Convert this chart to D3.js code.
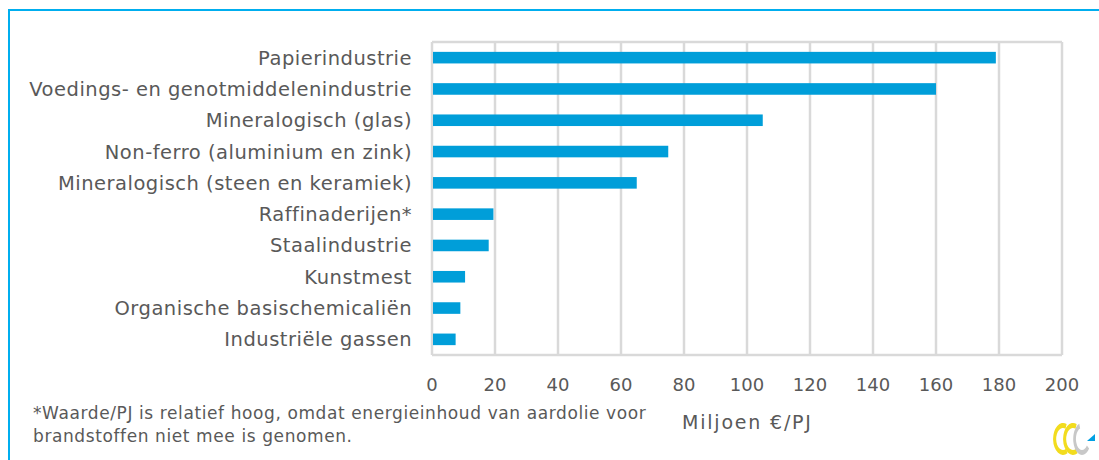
<!DOCTYPE html>
<html>
<head>
<meta charset="utf-8">
<script src="https://cdn.jsdelivr.net/npm/d3@7"></script>
<style>
  body { margin: 0; background: #fff; }
  text { font-family: "DejaVu Sans", sans-serif; fill: #595959; }
</style>
</head>
<body>
<div id="chart"></div>
<script>
// categories top to bottom
const sectors = [
  "Papierindustrie",
  "Voedings- en genotmiddelenindustrie",
  "Mineralogisch (glas)",
  "Non-ferro (aluminium en zink)",
  "Mineralogisch (steen en keramiek)",
  "Raffinaderijen*",
  "Staalindustrie",
  "Kunstmest",
  "Organische basischemicaliën",
  "Industriële gassen"
]
// Miljoen €/PJ
const values = [179, 160, 105, 75, 65, 19.5, 18, 10.5, 9, 7.5]
const xTicks = [0, 20, 40, 60, 80, 100, 120, 140, 160, 180, 200]
const axisTitle = "Miljoen €/PJ"
const footnote = [
  "*Waarde/PJ is relatief hoog, omdat energieinhoud van aardolie voor",
  "brandstoffen niet mee is genomen."
]

const W = 1099, H = 460
const plot = {left: 432, right: 1062, top: 42, bottom: 355}

const svg = d3.select("#chart")
  .append("svg")
    .attr("width", W)
    .attr("height", H)

// frame line (top + left)
svg.append("path")
  .attr("d", `M9,${H} V10 H${W}`)
  .attr("fill", "none")
  .attr("stroke", "#00aeef")
  .attr("stroke-width", 2)

const x = d3.scaleLinear()
  .domain([0, 200])
  .range([plot.left, plot.right])

const y = d3.scaleBand()
  .domain(sectors)
  .range([plot.top, plot.bottom])
  .paddingInner(0.63)
  .paddingOuter(0.315)

// gridlines
svg.append("g")
  .selectAll("line")
  .data(xTicks)
  .join("line")
    .attr("x1", d => x(d))
    .attr("x2", d => x(d))
    .attr("y1", plot.top)
    .attr("y2", plot.bottom)
    .attr("stroke", "#d9d9d9")
    .attr("stroke-width", 2.5)

svg.append("g")
  .selectAll("line")
  .data([plot.top, plot.bottom])
  .join("line")
    .attr("x1", plot.left)
    .attr("x2", plot.right)
    .attr("y1", d => d)
    .attr("y2", d => d)
    .attr("stroke", "#d9d9d9")
    .attr("stroke-width", 2.5)

// bars
svg.append("g")
  .selectAll("rect")
  .data(sectors)
  .join("rect")
    .attr("x", x(0) + 1)
    .attr("y", d => y(d))
    .attr("width", (d, i) => x(values[i]) - x(0) - 1)
    .attr("height", y.bandwidth())
    .attr("fill", "#009ed9")

// category labels
svg.append("g")
  .selectAll("text")
  .data(sectors)
  .join("text")
    .attr("x", 412)
    .attr("y", d => y(d) + y.bandwidth() / 2)
    .attr("dy", "0.36em")
    .attr("text-anchor", "end")
    .style("font-size", "19.5px")
    .style("letter-spacing", "0.5px")
    .text(d => d)

// x tick labels
svg.append("g")
  .selectAll("text")
  .data(xTicks)
  .join("text")
    .attr("x", d => x(d))
    .attr("y", 385)
    .attr("dy", "0.36em")
    .attr("text-anchor", "middle")
    .style("font-size", "18px")
    .text(d => d)

svg.append("text")
  .attr("x", 682)
  .attr("y", 422)
  .attr("dy", "0.36em")
  .style("font-size", "19px")
  .style("letter-spacing", "1.8px")
  .text(axisTitle)

// footnote
svg.append("g")
  .selectAll("text")
  .data(footnote)
  .join("text")
    .attr("x", 33)
    .attr("y", (d, i) => 419 + i * 23)
    .style("font-size", "17px")
    .style("letter-spacing", "0.6px")
    .text(d => d)

// small logo bottom right
const ring = d3.arc().innerRadius(11).outerRadius(16)
const logo = svg.append("g")
logo.append("path")
  .attr("transform", "translate(1063,439) scale(0.62,1)")
  .attr("d", ring({startAngle: Math.PI * 0.85, endAngle: Math.PI * 2.12}))
  .attr("fill", "#f2dc1e")
logo.append("path")
  .attr("transform", "translate(1073,439) scale(0.62,1)")
  .attr("d", ring({startAngle: Math.PI * 0.85, endAngle: Math.PI * 2.12}))
  .attr("fill", "#f2dc1e")
logo.append("path")
  .attr("transform", "translate(1082,439) scale(0.55,1)")
  .attr("d", ring({startAngle: Math.PI * 0.7, endAngle: Math.PI * 1.9}))
  .attr("fill", "#c8c8c8")
logo.append("path")
  .attr("d", "M1087,441 L1095,434 L1095,441 Z")
  .attr("fill", "#00a0e3")
</script>
</body>
</html>
